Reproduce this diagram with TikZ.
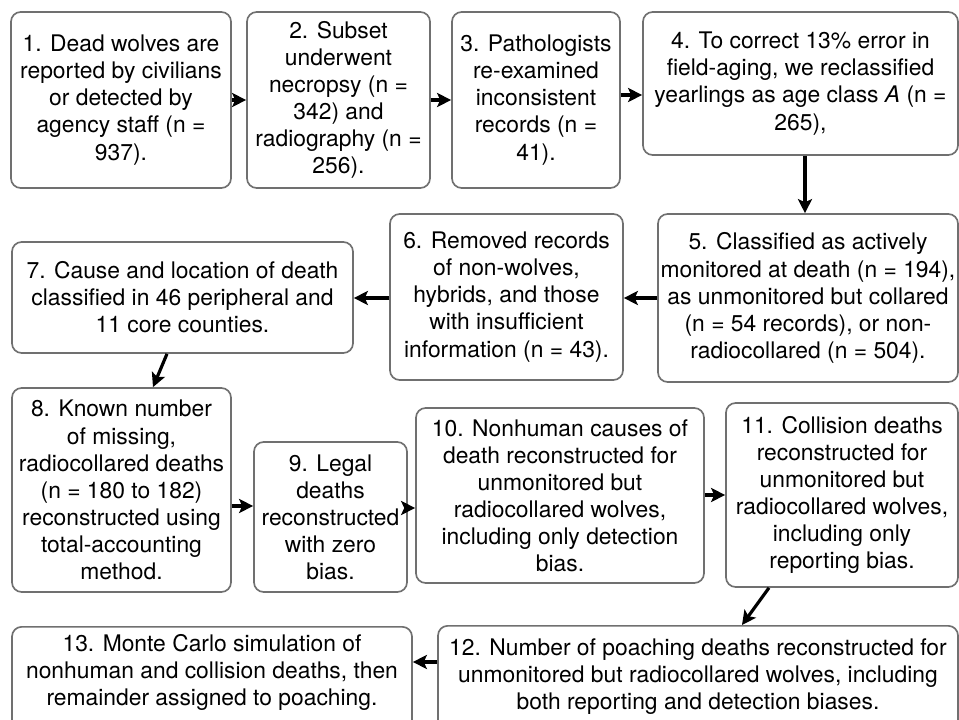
\documentclass[tikz,border=0pt]{standalone}
\usepackage{fontspec}
\setmainfont{TeX Gyre Heros}
\usepackage{tikz}
\usetikzlibrary{arrows.meta,calc}
\definecolor{boxgray}{HTML}{707070}
\begin{document}
\begin{tikzpicture}[scale=0.2]
        \tikzstyle{every node}+=[inner sep=0pt]
        \tikzstyle{stage}=[draw=boxgray, line width=0.95pt, rounded corners=5.5pt, align=center, font=\fontsize{13}{15.4}\selectfont]
        \tikzstyle{note}=[align=center, font=\fontsize{13}{15.4}\selectfont]
        \tikzstyle{flow}=[black, line width=1.8pt, -{Stealth[length=8pt,width=8pt,inset=1.8pt]}]
        \useasboundingbox (0,0) rectangle (95.9,-71.9);
        \node [stage, minimum width=4.4cm, minimum height=3.52cm] (s1) at (12.1,-10) {1. Dead wolves are\\reported by civilians\\or detected by\\agency staff (n =\\937).};
        \node [stage, minimum width=3.66cm, minimum height=3.52cm] (s2) at (33.85,-10) {2. Subset\\underwent\\necropsy (n =\\342) and\\radiography (n =\\256).};
        \node [stage, minimum width=3.36cm, minimum height=3.52cm] (s3) at (53.6,-10) {3. Pathologists\\re-examined\\inconsistent\\records (n =\\41).};
        \node [stage, minimum width=6.3cm, minimum height=2.86cm] (s4) at (80.05,-8.35) {4. To correct 13\% error in\\field-aging, we reclassified\\yearlings as age class \textit{A} (n =\\265),};
        \node [stage, minimum width=6.0cm, minimum height=3.36cm] (s5) at (80.8,-29.8) {5. Classified as actively\\monitored at death (n = 194),\\as unmonitored but collared\\(n = 54 records), or non-\\radiocollared (n = 504).};
        \node [stage, minimum width=4.66cm, minimum height=3.32cm] (s6) at (50.65,-29.7) {6. Removed records\\of non-wolves,\\hybrids, and those\\with insufficient\\information (n = 43).};
        \node [stage, minimum width=6.82cm, minimum height=2.22cm] (s7) at (18.25,-29.75) {7. Cause and location of death\\classified in 46 peripheral and\\11 core counties.};
        \node [stage, minimum width=4.38cm, minimum height=4.08cm] (s8) at (12.15,-49) {8. Known number\\of missing,\\radiocollared deaths\\(n = 180 to 182)\\reconstructed using\\total-accounting\\method.};
        \node [stage, minimum width=3.06cm, minimum height=3.0cm] (s9) at (33.05,-51.7) {9. Legal\\deaths\\reconstructed\\with zero\\bias.};
        \node [stage, minimum width=5.76cm, minimum height=3.5cm] (s10) at (56,-49.55) {10. Nonhuman causes of\\death reconstructed for\\unmonitored but\\radiocollared wolves,\\including only detection\\bias.};
        \node [stage, minimum width=4.64cm, minimum height=3.68cm] (s11) at (84.2,-49.5) {11. Collision deaths\\reconstructed for\\unmonitored but\\radiocollared wolves,\\including only\\reporting bias.};
        \node [stage, minimum width=10.4cm, minimum height=2.4cm, anchor=north] (s12) at (69.8,-62.5) {};
        \node [note] (t12) at ($(s12.north)+(0,-5.15)$) {12. Number of poaching deaths reconstructed for\\unmonitored but radiocollared wolves, including\\both reporting and detection biases.};
        \node [stage, minimum width=8.0cm, minimum height=2.4cm, anchor=north] (s13) at (21.2,-62.6) {};
        \node [note] (t13) at ($(s13.north)+(0,-4.65)$) {13. Monte Carlo simulation of\\nonhuman and collision deaths, then\\remainder assigned to poaching.};
        \coordinate (a34) at ($(s3.east)+(0,0.5)$);
        \coordinate (a45) at ($(s4.south)+(0.45,0)$);
        \coordinate (a67) at ($(s6.west)+(0,-0.1)$);
        \coordinate (a78) at ($(s7.south)+(-1.55,0)$);
        \coordinate (b78) at ($(s8.north)+(3.15,0)$);
        \coordinate (a89) at ($(s8.east)+(0,-1.6)$);
        \coordinate (a910) at ($(s9.east)+(0,0.9)$);
        \coordinate (a1011) at ($(s10.east)+(0,0.05)$);
        \coordinate (a1112) at ($(s11.south)+(-7.3,0)$);
        \coordinate (b1112) at ($(s12.north)+(4.4,0)$);
        \coordinate (a1213) at ($(s12.north west)+(0,-3.7)$);
        \draw [flow] (s1.east) -- (s2.west);
        \draw [flow] (s2.east) -- (s3.west);
        \draw [flow] (a34) -- (a34 -| s4.west);
        \draw [flow] (a45) -- (a45 |- s5.north);
        \draw [flow] (s5.west) -- (s5.west -| s6.east);
        \draw [flow] (a67) -- (a67 -| s7.east);
        \draw [flow] (a78) -- (b78);
        \draw [flow] (a89) -- (a89 -| s9.west);
        \draw [flow] (a910) -- (a910 -| s10.west);
        \draw [flow] (a1011) -- (a1011 -| s11.west);
        \draw [flow] (a1112) -- (b1112);
        \draw [flow] (a1213) -- (a1213 -| s13.east);
\end{tikzpicture}
\end{document}
